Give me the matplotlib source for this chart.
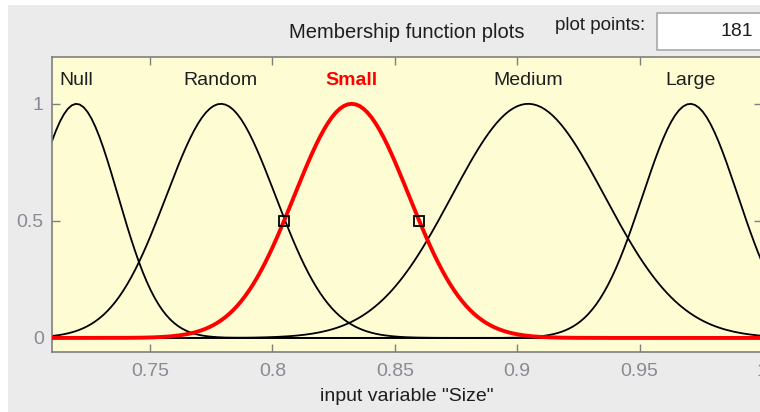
import numpy as np
import matplotlib.pyplot as plt
from matplotlib.patches import Rectangle

# Membership functions of the input variable "Size" (Gaussian MFs)
mf_names = ["Null", "Random", "Small", "Medium", "Large"]
mf_centers = [0.720, 0.779, 0.8324, 0.9045, 0.9707]
mf_sigmas = [0.0170, 0.0223, 0.02345, 0.0312, 0.0195]
selected_mf = "Small"

x_range = [0.71, 1.0]
plot_points = 181
x_ticks = [0.75, 0.8, 0.85, 0.9, 0.95, 1.0]
x_tick_labels = ["0.75", "0.8", "0.85", "0.9", "0.95", "1"]
y_ticks = [0, 0.5, 1]
y_tick_labels = ["0", "0.5", "1"]

W, H = 760, 412
plt.rcParams['font.family'] = ['Liberation Sans', 'DejaVu Sans']

fig = plt.figure(figsize=(W / 100, H / 100), dpi=100, facecolor='white')

# grey window panel
fig.patches.append(Rectangle((8 / W, 0), 1, 1 - 5 / H, transform=fig.transFigure,
                             facecolor='#ebebeb', edgecolor='none', zorder=-10))

# header: title, "plot points" label and edit box
fig.text(407 / W, 1 - 32 / H, "Membership function plots", ha='center', va='center',
         fontsize=14.5, color='#1e1e1e')
fig.text(600 / W, 1 - 25 / H, "plot points:", ha='center', va='center',
         fontsize=13.5, color='#1e1e1e')
fig.patches.append(Rectangle((657 / W, 1 - 50 / H), 120 / W, 37 / H, transform=fig.transFigure,
                             facecolor='white', edgecolor='#a8a8a8', linewidth=1.2, zorder=1))
fig.text(753 / W, 1 - 31 / H, str(plot_points), ha='right', va='center',
         fontsize=14, color='#1e1e1e', zorder=2)

ax = fig.add_axes([52 / W, 1 - 352 / H, 710 / W, 295 / H])
ax.set_facecolor('#fdfcd2')

x = np.linspace(x_range[0], x_range[1], plot_points)
for name, c, s in zip(mf_names, mf_centers, mf_sigmas):
    y = np.exp(-(x - c) ** 2 / (2 * s ** 2))
    is_sel = name == selected_mf
    ax.plot(x, y, color='red' if is_sel else 'black', lw=2.8 if is_sel else 1.3,
            zorder=3 if is_sel else 2)
    ax.text(c, 1.1, name, ha='center', va='center', fontsize=14,
            color='red' if is_sel else '#1e1e1e',
            fontweight='bold' if is_sel else 'normal')

    if is_sel:
        hw = s * np.sqrt(2 * np.log(2))
        ax.plot([c - hw, c + hw], [0.5, 0.5], 's', mfc='none', mec='black',
                ms=7, mew=1.3, zorder=4)

ax.set_xlim(x_range)
ax.set_ylim(-0.06, 1.2)
ax.set_xticks(x_ticks)
ax.set_xticklabels(x_tick_labels)
ax.set_yticks(y_ticks)
ax.set_yticklabels(y_tick_labels)
ax.tick_params(direction='in', top=True, right=True, length=6, width=1,
               color='#808080', labelcolor='#8a8a94', labelsize=14)
ax.tick_params(axis='x', pad=8)
ax.tick_params(axis='y', pad=6)
for sp in ax.spines.values():
    sp.set_color('#808080')
    sp.set_linewidth(1.2)

ax.set_xlabel('input variable "Size"', fontsize=14, color='#1e1e1e', labelpad=6)

fig.savefig('out.png', dpi=100, facecolor=fig.get_facecolor())
